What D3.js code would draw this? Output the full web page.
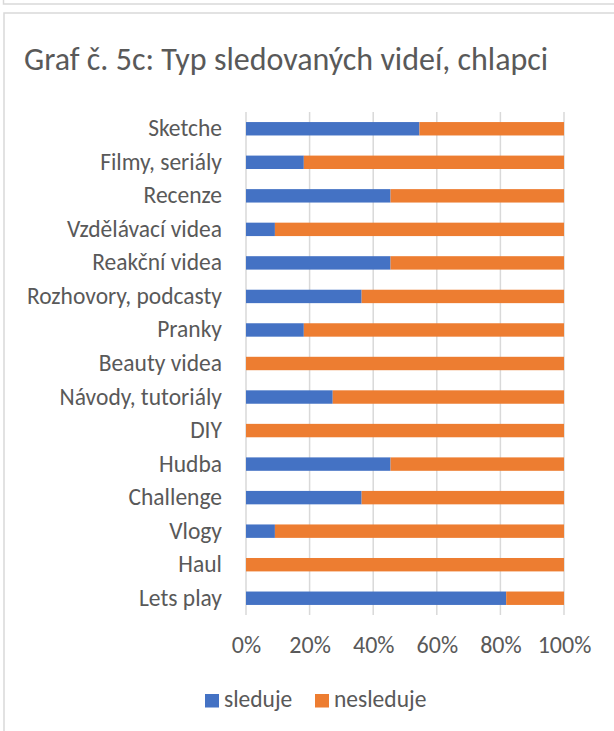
<!DOCTYPE html>
<html>
<head>
<meta charset="utf-8">
<script src="https://cdn.jsdelivr.net/npm/d3@7"></script>
<style>
  html, body { margin: 0; padding: 0; background: #fff; }
  svg { display: block; }
  text { font-family: Carlito, Calibri, Lato, "Open Sans", sans-serif; fill: #595959; }
</style>
</head>
<body>
<svg id="chart" width="614" height="731"></svg>
<script>
// Video types, listed top to bottom
const categories = [
  "Sketche", "Filmy, seriály", "Recenze", "Vzdělávací videa", "Reakční videa",
  "Rozhovory, podcasty", "Pranky", "Beauty videa", "Návody, tutoriály", "DIY",
  "Hudba", "Challenge", "Vlogy", "Haul", "Lets play"
];
// Number of boys who watch / do not watch each type (out of 11)
const sleduje   = [6, 2, 5, 1, 5, 4, 2, 0, 3, 0, 5, 4, 1, 0, 9];
const nesleduje = [5, 9, 6, 10, 6, 7, 9, 11, 8, 11, 6, 7, 10, 11, 2];
const seriesNames = ["sleduje", "nesleduje"];
const seriesColors = ["#4472C4", "#ED7D31"];
const tickValues = [0, 0.2, 0.4, 0.6, 0.8, 1];
const titleText = "Graf č. 5c: Typ sledovaných videí, chlapci";

const svg = d3.select("#chart");

// Panel frames (bottom edge of the panel above, and this panel's box)
svg.append("path")
  .attr("d", "M3.5,0 V4 H614")
  .attr("fill", "none").attr("stroke", "#d9d9d9").attr("stroke-width", 1.5);
svg.append("path")
  .attr("d", "M4,731 V13 H614")
  .attr("fill", "none").attr("stroke", "#d9d9d9").attr("stroke-width", 1.5);

// Title
svg.append("text")
  .attr("x", 24).attr("y", 70)
  .attr("font-size", 32)
  .text(titleText);

// Build stacked, normalised rows
const rows = categories.map((c, i) => {
  const total = sleduje[i] + nesleduje[i];
  return { cat: c, sleduje: sleduje[i] / total, nesleduje: nesleduje[i] / total };
});
const stack = d3.stack().keys(seriesNames)(rows);

const x = d3.scaleLinear().domain([0, 1]).range([246, 564]);
const y = d3.scaleBand().domain(categories).range([112, 615])
  .paddingInner(0.6).paddingOuter(0.3);

// Vertical gridlines
svg.append("g").selectAll("line")
  .data(tickValues)
  .join("line")
  .attr("x1", d => x(d)).attr("x2", d => x(d))
  .attr("y1", 112).attr("y2", 615)
  .attr("stroke", "#d9d9d9").attr("stroke-width", 1.5);

// Bars
svg.append("g").selectAll("g")
  .data(stack)
  .join("g")
  .attr("fill", (d, i) => seriesColors[i])
  .selectAll("rect")
  .data(d => d)
  .join("rect")
  .attr("x", d => x(d[0]))
  .attr("y", d => y(d.data.cat))
  .attr("width", d => x(d[1]) - x(d[0]))
  .attr("height", y.bandwidth());

// Category axis labels
const yAxis = d3.axisLeft(y).tickSize(0).tickPadding(24);
const gy = svg.append("g").attr("transform", `translate(${x(0)},0)`).call(yAxis);
gy.select(".domain").remove();
gy.selectAll("text")
  .attr("font-size", 23.5)
  .attr("font-family", null)
  .attr("fill", "#595959");

// Percentage axis labels
const xAxis = d3.axisBottom(x).tickValues(tickValues).tickFormat(d3.format(".0%"))
  .tickSize(0).tickPadding(21);
const gx = svg.append("g").attr("transform", "translate(0,615)").call(xAxis);
gx.select(".domain").remove();
gx.selectAll("text")
  .attr("font-size", 24)
  .attr("font-family", null)
  .attr("fill", "#595959");

// Legend
const legendX = [205, 315];
const legend = svg.append("g").selectAll("g")
  .data(seriesNames)
  .join("g")
  .attr("transform", (d, i) => `translate(${legendX[i]},694)`);
legend.append("rect")
  .attr("width", 14).attr("height", 13.5)
  .attr("fill", (d, i) => seriesColors[i]);
legend.append("text")
  .attr("x", 19).attr("y", 12.5)
  .attr("font-size", 23.5)
  .text(d => d);
</script>
</body>
</html>
